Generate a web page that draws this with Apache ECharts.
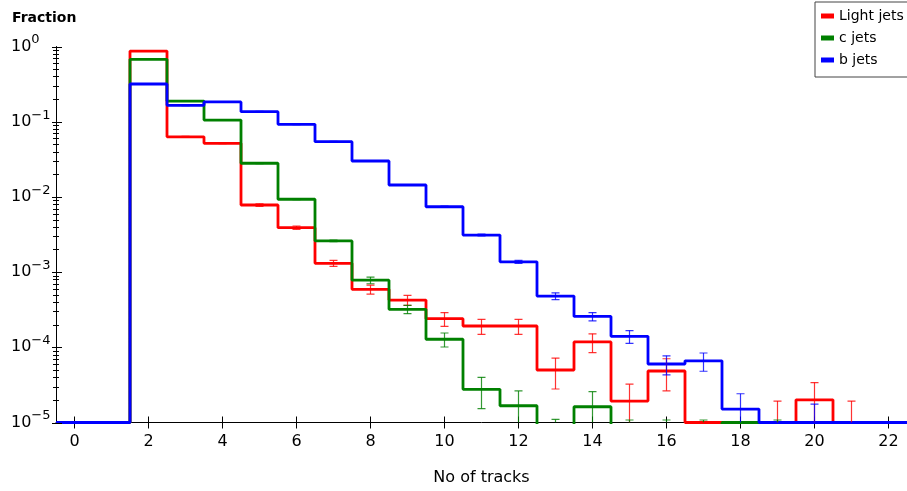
<!DOCTYPE html>
<html><head><meta charset="utf-8">
<script src="https://cdn.jsdelivr.net/npm/echarts@6/dist/echarts.min.js"></script>
<style>html,body{margin:0;padding:0;background:#fff}#c{width:907px;height:491px}</style>
</head><body><div id="c"></div>
<script>
// Bin centres (number of tracks)
const bins = [0,1,2,3,4,5,6,7,8,9,10,11,12,13,14,15,16,17,18,19,20,21,22];
// Fractions per bin (0 = empty bin)
const lightJets    = [0,0,0.87,0.063,0.0516,0.0078,0.0039,0.00131,5.9e-4,4.25e-4,2.4e-4,1.92e-4,1.92e-4,4.99e-5,1.18e-4,1.93e-5,4.84e-5,0,0,0,2.0e-5,0,0];
const lightJetsErr = [0,0,0.005,0.0008,0.0007,0.0003,0.0002,1.2e-4,0.8e-4,0.65e-4,0.5e-4,0.43e-4,0.43e-4,2.2e-5,3.3e-5,1.3e-5,2.2e-5,0,0,1.93e-5,1.4e-5,1.93e-5,0];
const cJets        = [0,0,0.676,0.188,0.105,0.028,0.0093,0.0026,7.8e-4,3.2e-4,1.28e-4,2.76e-5,1.67e-5,4e-6,1.62e-5,4e-6,4e-6,4e-6,0,4e-6,0,0,0];
const cJetsErr     = [0,0,0.004,0.001,0.0008,0.0003,0.0001,0.6e-4,0.8e-4,0.4e-4,0.27e-4,1.23e-5,0.96e-5,7e-6,0.95e-5,6.8e-6,6.8e-6,6.8e-6,0,6.8e-6,0,0,0];
const bJets        = [0,0,0.317,0.165,0.183,0.136,0.0923,0.0542,0.030,0.0144,0.0074,0.00311,0.00137,4.8e-4,2.57e-4,1.40e-4,6.0e-5,6.6e-5,1.51e-5,0,0,0,0];
const bJetsErr     = [0,0,0.002,0.001,0.001,0.0008,0.0006,0.0004,0.0003,0.0002,0.00015,0.00008,0.00006,0.5e-4,0.33e-4,0.27e-4,1.7e-5,1.8e-5,0.9e-5,0,1.76e-5,0,0];
// Axis ticks
const xTicks = [0,2,4,6,8,10,12,14,16,18,20,22];
const yDecades = [-5,-4,-3,-2,-1,0];
const yMinorMult = [2,3,4,5,6,7,8,9];

const X_MIN = -0.5, X_MAX = 22.5;
const Y_MIN = 1e-5, Y_MAX = 1;
const FONT = 'DejaVu Sans';
const COLORS = {light:'#ff0000', c:'#008000', b:'#0000ff'};

const yMinor = [];
yDecades.slice(0,-1).forEach(d => yMinorMult.forEach(m => yMinor.push(m*Math.pow(10,d))));
const yMajor = yDecades.map(d => Math.pow(10,d));

function stepData(vals){
  const pts = bins.map((b,i)=>[b-0.5, vals[i] > 0 ? vals[i] : Y_MIN]);
  const last = bins.length-1;
  pts.push([bins[last]+0.5, vals[last] > 0 ? vals[last] : Y_MIN]);
  return pts;
}
function lineSeries(name, vals, color){
  return {type:'line', name, data: stepData(vals), step:'end', symbol:'none',
    color, lineStyle:{color, width:2.8}, clip:true, silent:true, z:2};
}
function errSeries(vals, errs, color){
  return {type:'custom', silent:true, z:3, clip:true,
    data: bins.map((b,i)=>[b, vals[i], errs[i]]).filter(d=>d[2]>0),
    renderItem(params, api){
      const x = api.value(0), v = api.value(1), e = api.value(2);
      const top = v + e, bot = v - e;
      if (top <= Y_MIN) return null;
      const clipBot = bot <= Y_MIN;
      const pT = api.coord([x, top]);
      const pB = api.coord([x, clipBot ? Y_MIN : bot]);
      const hw = 4;
      const st = {stroke: color, lineWidth: 1.2, opacity: 0.8};
      const ch = [
        {type:'line', shape:{x1:pT[0], y1:pT[1], x2:pB[0], y2:pB[1]}, style:st},
        {type:'line', shape:{x1:pT[0]-hw, y1:pT[1], x2:pT[0]+hw, y2:pT[1]}, style:st}
      ];
      if (!clipBot) ch.push({type:'line', shape:{x1:pB[0]-hw, y1:pB[1], x2:pB[0]+hw, y2:pB[1]}, style:st});
      return {type:'group', children: ch};
    }};
}
// y-axis ticks crossing the axis line (major + log minor), placed through the axis scale
const yTickSeries = {type:'custom', silent:true, z:5, clip:false, data:[[X_MIN, Y_MIN]],
  renderItem(params, api){
    const ch = [];
    const st = {stroke:'#000', lineWidth:1};
    yMajor.forEach(v => { const p = api.coord([X_MIN, v]); const y = Math.round(p[1]) + 0.5;
      ch.push({type:'line', shape:{x1:p[0]-4, y1:y, x2:p[0]+6, y2:y}, style:st}); });
    yMinor.forEach(v => { const p = api.coord([X_MIN, v]); const y = Math.round(p[1]) + 0.5;
      ch.push({type:'line', shape:{x1:p[0]-3, y1:y, x2:p[0]+3, y2:y}, style:st}); });
    return {type:'group', children: ch};
  }};

const chart = echarts.init(document.getElementById('c'), null, {renderer:'canvas'});
chart.setOption({
  animation:false,
  backgroundColor:'#fff',
  title:{text:'Fraction', left:12, top:11, padding:0,
    textStyle:{fontFamily:FONT, fontSize:14, fontWeight:'bold', color:'#000'}},
  legend:{orient:'vertical', left:815, top:2, padding:[7,30,10,6], itemGap:8,
    itemWidth:13, itemHeight:5, icon:'rect', borderColor:'#444', borderWidth:1,
    backgroundColor:'#fff', data:['Light jets','c jets','b jets'],
    textStyle:{fontFamily:FONT, fontSize:14, color:'#000'}},
  grid:{left:56, right:0, top:46.5, bottom:68.5, containLabel:false, outerBoundsMode:'none'},
  xAxis:[
    {type:'value', min:X_MIN, max:X_MAX, position:'bottom', splitLine:{show:false},
      axisLine:{show:true, onZero:false, lineStyle:{color:'#000', width:1}},
      axisTick:{show:true, customValues:xTicks, length:6, lineStyle:{color:'#000', width:1}},
      axisLabel:{show:true, customValues:xTicks, fontFamily:FONT, fontSize:16, color:'#000', margin:11},
      name:'No of tracks', nameLocation:'middle', nameGap:47,
      nameTextStyle:{fontFamily:FONT, fontSize:16, color:'#000'}},
    {type:'value', min:X_MIN, max:X_MAX, position:'bottom', splitLine:{show:false},
      axisLine:{show:false, onZero:false}, axisLabel:{show:false},
      axisTick:{show:true, customValues:xTicks, inside:true, length:6, lineStyle:{color:'#000', width:1}}}
  ],
  yAxis:[
    {type:'log', logBase:10, min:Y_MIN, max:Y_MAX, position:'left', splitLine:{show:false},
      axisLine:{show:true, onZero:false, lineStyle:{color:'#000', width:1}},
      axisTick:{show:false},
      axisLabel:{show:true, customValues:yMajor, margin:45, align:'left',
        formatter: v => { const e = Math.round(Math.log10(v)); return '{b|10}{s|' + (e<0?'\u2212':'') + Math.abs(e) + '}'; },
        rich:{b:{fontFamily:FONT, fontSize:16, color:'#000', lineHeight:20},
              s:{fontFamily:FONT, fontSize:13, color:'#000', lineHeight:13, padding:[0,0,13,0]}}}}
  ],
  series:[
    lineSeries('Light jets', lightJets, COLORS.light),
    errSeries(lightJets, lightJetsErr, COLORS.light),
    lineSeries('c jets', cJets, COLORS.c),
    errSeries(cJets, cJetsErr, COLORS.c),
    lineSeries('b jets', bJets, COLORS.b),
    errSeries(bJets, bJetsErr, COLORS.b),
    yTickSeries
  ]
});
</script></body></html>
